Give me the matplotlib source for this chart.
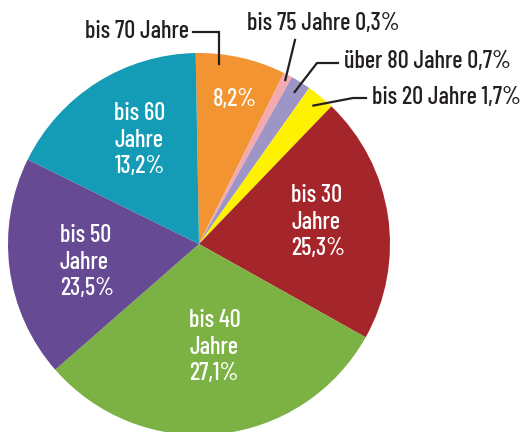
import numpy as np
import matplotlib
matplotlib.use("Agg")
import matplotlib.pyplot as plt

plt.rcParams["font.family"] = ["Barlow Condensed", "Roboto Condensed", "DejaVu Sans"]

# Altersgruppen im Uhrzeigersinn ab 12 Uhr
gruppen = ["bis 70 Jahre", "bis 75 Jahre", "über 80 Jahre", "bis 20 Jahre",
           "bis 30 Jahre", "bis 40 Jahre", "bis 50 Jahre", "bis 60 Jahre"]
# gedruckte Prozentwerte
prozent = ["8,2%", "0,3%", "0,7%", "1,7%", "25,3%", "27,1%", "23,5%", "13,2%"]
# Segmentgrößen, wie sie im Bild gezeichnet sind (Anteil in %)
anteil = [7.6, 0.75, 1.7, 2.4, 20.9, 30.4, 18.7, 17.4]
farben = ["#f39432", "#f4a9ae", "#9e95c7", "#fff200",
          "#a5262a", "#7cb244", "#664a93", "#149bb5"]

W, H = 527, 432
CX, CY, R = 199, H - 244, 191
INK = "#231f20"
FS_IN, FS_OUT = 17.5, 17.5

fig = plt.figure(figsize=(W / 100, H / 100), dpi=100)
ax = fig.add_axes([0, 0, 1, 1])
ax.axis("off")

wedges, _ = ax.pie(anteil, colors=farben, startangle=91, counterclock=False,
                   center=(CX, CY), radius=R, wedgeprops=dict(linewidth=0))
ax.set_xlim(0, W)
ax.set_ylim(0, H)
ax.set_aspect("equal")


def punkt(w, t=0.5, rf=0.6):
    a = np.deg2rad(w.theta1 + t * (w.theta2 - w.theta1))
    return CX + rf * R * np.cos(a), CY + rf * R * np.sin(a)


# Beschriftungen innen (weiß): Segment -> (Winkelanteil, Radiusanteil)
innen = {0: (0.45, 0.78), 4: (0.526, 0.634), 5: (0.526, 0.546),
         6: (0.525, 0.594), 7: (0.456, 0.626)}
for i, (t, rf) in innen.items():
    x, y = punkt(wedges[i], t, rf)
    if i == 0:
        txt = prozent[i]
    else:
        name = gruppen[i].replace(" Jahre", "")
        txt = f"{name}\nJahre\n{prozent[i]}"
    ax.text(x, y, txt, ha="center", va="center", multialignment="left",
            color="white", fontsize=FS_IN, fontweight="medium", linespacing=1.2)

# Beschriftungen außen mit Führungslinien
lw = 1.6
kw = dict(color=INK, fontsize=FS_OUT, fontweight="medium", va="center")
# bis 70 Jahre
tip = punkt(wedges[0], 0.73, 0.95)
ax.plot([193, tip[0], tip[0]], [H - 32, H - 32, tip[1]], color=INK, lw=lw,
        solid_joinstyle="miter")
ax.text(189, H - 31, gruppen[0], ha="right", **kw)
# bis 75 Jahre
tip = punkt(wedges[1], 0.5, 0.97)
ax.plot([295, tip[0]], [H - 40, tip[1]], color=INK, lw=lw)
ax.text(247, H - 24, f"{gruppen[1]} {prozent[1]}", ha="left", **kw)
# über 80 Jahre
tip = punkt(wedges[2], 0.5, 0.94)
ax.plot([338, 317, tip[0]], [H - 63, H - 63, tip[1]], color=INK, lw=lw,
        solid_joinstyle="miter")
ax.text(344, H - 62, f"{gruppen[2]} {prozent[2]}", ha="left", **kw)
# bis 20 Jahre
tip = punkt(wedges[3], 0.5, 0.94)
ax.plot([366, 353, tip[0]], [H - 98, H - 98, tip[1]], color=INK, lw=lw,
        solid_joinstyle="miter")
ax.text(372, H - 97, f"{gruppen[3]} {prozent[3]}", ha="left", **kw)

fig.savefig("out.png", dpi=100, facecolor="white")
